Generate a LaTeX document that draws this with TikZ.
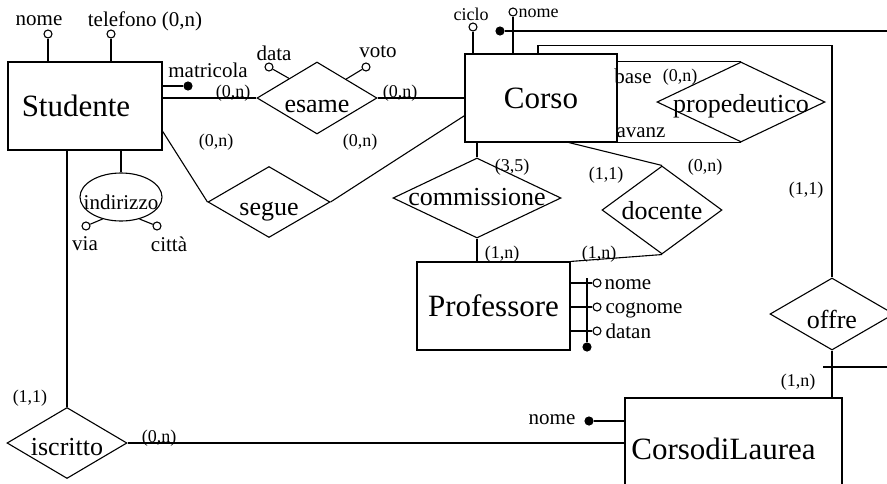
\documentclass[tikz,border=0pt]{standalone}
\usepackage{fontspec}
\setmainfont{Liberation Serif}
\usetikzlibrary{shapes.geometric}
\newcommand{\rl}[2][12pt]{\makebox[0pt]{\smash{\raisebox{-#1}{#2}}}}
\tikzset{
  ent/.style={draw,rectangle,inner sep=0pt,font=\fontsize{31}{31}\selectfont},
  rel/.style={draw,diamond,inner sep=0pt,font=\fontsize{26}{26}\selectfont},
  att/.style={inner sep=0pt,font=\fontsize{21}{21}\selectfont},
  satt/.style={inner sep=0pt,font=\fontsize{18}{18}\selectfont},
  card/.style={inner sep=0pt,font=\fontsize{18}{18}\selectfont},
  opn/.style={draw,circle,fill=white,minimum size=8pt,inner sep=0pt},
  fil/.style={draw,circle,fill=black,minimum size=8pt,inner sep=0pt},
}
\begin{document}
\begin{tikzpicture}[x=1pt,y=-1pt,line width=1.1pt]
	\useasboundingbox (0,0) rectangle (887,483);
	\clip (0,0) rectangle (887,483);
	\node[ent,minimum width=154pt,minimum height=88pt] (stud) at (85,106) {Studente\hspace*{18pt}};
	\node[ent,minimum width=152pt,minimum height=88pt] (corso) at (541,98) {Corso};
	\node[ent,minimum width=153pt,minimum height=88pt] (prof) at (493.5,306) {Professore};
	\node[ent,minimum width=217pt,minimum height=102pt] (cdl) at (733.5,449) {CorsodiLaurea\hspace*{20pt}};
	\node[rel,minimum width=120pt,minimum height=72pt] (esame) at (317,98) {\rl[14pt]{esame}};
	\node[rel,minimum width=122pt,minimum height=71pt] (segue) at (269,202) {\rl[13pt]{segue}};
	\node[rel,minimum width=168pt,minimum height=80pt] (comm) at (477,198) {\rl[7pt]{commissione}};
	\node[rel,minimum width=120pt,minimum height=88pt] (doc) at (662,210) {\rl[9pt]{docente}};
	\node[rel,minimum width=168pt,minimum height=80pt] (prop) at (741,102) {\rl[10pt]{propedeutico}};
	\node[rel,minimum width=124pt,minimum height=72pt] (offre) at (832,314) {\rl[14pt]{offre}};
	\node[rel,minimum width=120pt,minimum height=71pt] (iscr) at (67,443) {\rl[12pt]{iscritto}};
	\node[att,draw,ellipse,minimum width=82pt,minimum height=48pt] (ind) at (121,197) {\rl{indirizzo}};
	\node[opn] (sn) at (48,34) {};
	\node[opn] (st) at (111,34) {};
	\node[fil] (md) at (188,86) {};
	\node[opn] (dd) at (269,67) {};
	\node[opn] (vo) at (366,67) {};
	\node[opn] (vc) at (86,226) {};
	\node[opn] (cc) at (157,226) {};
	\node[opn] (cic) at (473,27) {};
	\node[opn] (cn) at (513,12) {};
	\node[fil] (cdot) at (500,31) {};
	\node[opn] (pn1) at (597,283) {};
	\node[opn] (pn2) at (597,307) {};
	\node[opn] (pn3) at (597,331) {};
	\node[fil] (pd) at (587,347) {};
	\node[fil] (cnd) at (589,421) {};
	\coordinate (cend) at (895,31);
	\coordinate (k1) at (823,367);
	\coordinate (k2) at (895,367);
	\node[att] (snl) at (39,21) {nome};
	\node[att] (stl) at (145,21) {telefono (0,n)};
	\node[att] (mdl) at (208,70) {matricola};
	\node[att] (ddl) at (274,53) {data};
	\node[att] (vol) at (378,52) {voto};
	\node[att] (vcl) at (85,244) {via};
	\node[att] (ccl) at (169,244) {città};
	\node[satt] (cicl) at (471,14) {ciclo};
	\node[satt,anchor=west] (cnl) at (518,13) {nome};
	\node[att] (basel) at (633,76) {base};
	\node[att] (avl) at (641,133) {avanz};
	\node[att,anchor=west] (pn1l) at (604,285) {nome};
	\node[att,anchor=west] (pn2l) at (605,310) {cognome};
	\node[att,anchor=west] (pn3l) at (605,331) {datan};
	\node[att] (cndl) at (552,420) {nome};
	\node[card] at (233,93) {(0,n)};
	\node[card] at (400,93) {(0,n)};
	\node[card] at (216,142) {(0,n)};
	\node[card] at (360,142) {(0,n)};
	\node[card] at (512,167) {(3,5)};
	\node[card] at (502,254) {(1,n)};
	\node[card] at (606,175) {(1,1)};
	\node[card] at (705,167) {(0,n)};
	\node[card] at (599,254) {(1,n)};
	\node[card] at (680,77) {(0,n)};
	\node[card] at (806,190) {(1,1)};
	\node[card] at (798,382) {(1,n)};
	\node[card] at (30,398) {(1,1)};
	\node[card] at (159,438) {(0,n)};
	\draw (esame.west -| stud.east) -- (esame.west);
	\draw (esame.east) -- (esame.east -| corso.west);
	\draw (md) -- (md -| stud.east);
	\draw (sn) -- (sn |- stud.north);
	\draw (st) -- (st |- stud.north);
	\draw (dd) -- (esame.145);
	\draw (vo) -- (esame.33);
	\draw (iscr.north |- stud.south) -- (iscr.north);
	\draw (ind.north |- stud.south) -- (ind.north);
	\draw (vc) -- (ind.230);
	\draw (cc) -- (ind.310);
	\draw (stud.-18) -- (segue.west);
	\draw (segue.east) -- (corso.193);
	\draw (cic) -- (cic |- corso.north);
	\draw (cn) -- (cn |- corso.north);
	\draw (cdot) -- (cend);
	\draw (comm.north) -- (comm.north |- corso.south);
	\draw (comm.south) -- (comm.south |- prof.north);
	\draw (corso.-58) -- (doc.north);
	\draw (doc.south) -- (prof.north east);
	\draw (prop.north) -- (prop.north -| corso.east);
	\draw (prop.south) -- (prop.south -| corso.east);
	\draw ([xshift=-3pt]corso.north) -- ++(0,-8) -| (offre.north);
	\draw (offre.south) -- (offre.south |- cdl.north);
	\draw (k1) -- (k2);
	\draw (iscr.east) -- (iscr.east -| cdl.west);
	\draw (cnd) -- (cnd -| cdl.west);
	\draw (pn1) -- (pn1 -| prof.east);
	\draw (pn2) -- (pn2 -| prof.east);
	\draw (pn3) -- (pn3 -| prof.east);
	\draw (pd) -- (pd |- pn1.north);
\end{tikzpicture}
\end{document}
